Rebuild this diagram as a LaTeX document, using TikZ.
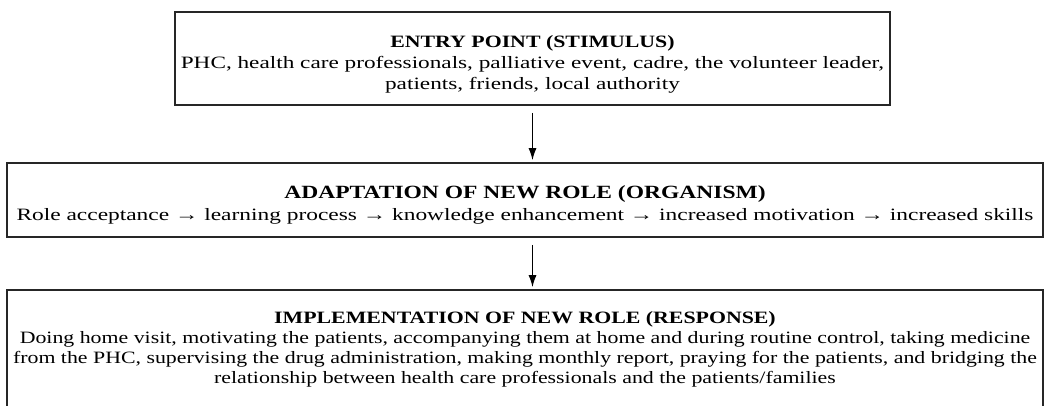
\documentclass[tikz,border=0pt]{standalone}
\usepackage{fontspec}
\setmainfont{Liberation Serif}
\newfontfamily\titlefont[FakeStretch=1.26]{Liberation Serif}
\newfontfamily\entryfont[FakeStretch=1.34]{Liberation Serif}
\newfontfamily\adaptfont[FakeStretch=1.35]{Liberation Serif}
\newfontfamily\implfont[FakeStretch=1.26]{Liberation Serif}
\usetikzlibrary{positioning,arrows.meta}

\begin{document}
\begin{tikzpicture}[x=0.75pt, y=-0.75pt,
    stagebox/.style={draw=black!85, line width=1.2pt, inner sep=0pt},
    stagetext/.style={align=center, inner sep=0pt},
    stagearrow/.style={-{Latex[length=9pt,width=6pt]}, line width=1pt, shorten <=5.25pt, shorten >=1.5pt}]
    \useasboundingbox (0,0) rectangle (1049,405);
    % the three stages of the S-O-R model
    \node[stagebox, minimum width=536.25pt, minimum height=69.75pt] (entry) at (532.5,58.5) {};
    \node[stagebox, minimum width=777pt, minimum height=55.5pt] (adapt) at (525,200) {};
    \node[stagebox, minimum width=777pt, minimum height=88.5pt] (impl) at (525,349) {};
    % their texts
    \node[stagetext, font=\entryfont\fontsize{13}{15.75}\selectfont] (entrytext)
      at ([yshift=-4.5pt]entry.center)
      {{\titlefont\bfseries ENTRY POINT (STIMULUS)}\\
       PHC, health care professionals, palliative event, cadre, the volunteer leader,\\
       patients, friends, local authority};
    \node[stagetext, font=\adaptfont\fontsize{13}{16.5}\selectfont] (adapttext)
      at ([yshift=-4pt]adapt.center)
      {{\titlefont\fontsize{14}{16.5}\selectfont\bfseries ADAPTATION OF NEW ROLE (ORGANISM)}\\
       Role acceptance → learning process → knowledge enhancement → increased motivation → increased skills};
    \node[stagetext, font=\implfont\fontsize{13}{15}\selectfont] (impltext) at (impl.center)
      {{\titlefont\bfseries IMPLEMENTATION OF NEW ROLE (RESPONSE)}\\
       Doing home visit, motivating the patients, accompanying them at home and during routine control, taking medicine\\
       from the PHC, supervising the drug administration, making monthly report, praying for the patients, and bridging the\\
       relationship between health care professionals and the patients/families};
    % connectors
    \draw[stagearrow] (entry.south) -- (entry.south |- adapt.north);
    \draw[stagearrow] (entry.south |- adapt.south) -- (entry.south |- impl.north);
\end{tikzpicture}
\end{document}
